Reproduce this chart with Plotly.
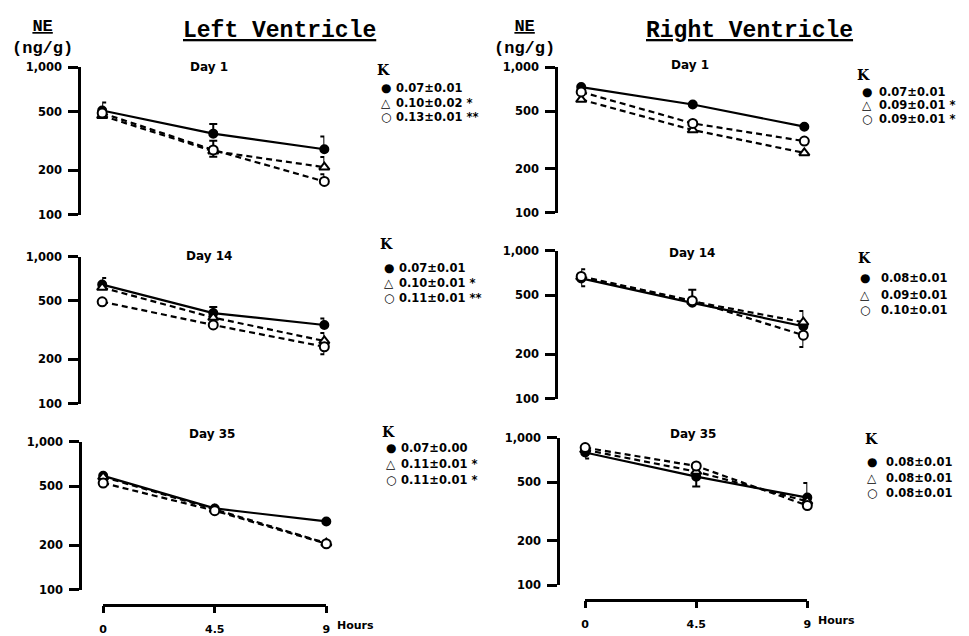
import plotly.graph_objects as go

W, H = 969, 636

HOURS = [0, 4.5, 9]
X_TICK_VALS = [0, 4.5, 9]
X_TICK_TEXT = ["0", "4.5", "9"]
Y_TICK_VALS = [100, 200, 500, 1000]
Y_TICK_TEXT = ["100", "200", "500", "1,000"]

DAYS = ["Day 1", "Day 14", "Day 35"]

# ---- Left ventricle, NE (ng/g) ----
LV_D1_CTRL = [510, 355, 278]
LV_D1_CTRL_UP = [68, 58, 61]
LV_D1_TRI = [470, 270, 210]
LV_D1_TRI_UP = [0, 48, 36]
LV_D1_OPEN = [490, 275, 168]
LV_D1_OPEN_UP = [0, 0, 20]
LV_D1_OPEN_DN = [0, 28, 0]
LV_D1_K = ["0.07±0.01", "0.10±0.02 *", "0.13±0.01 **"]

LV_D14_CTRL = [645, 413, 343]
LV_D14_CTRL_UP = [71, 42, 36]
LV_D14_TRI = [616, 385, 267]
LV_D14_TRI_UP = [0, 0, 35]
LV_D14_OPEN = [493, 343, 244]
LV_D14_OPEN_DN = [0, 0, 27]
LV_D14_K = ["0.07±0.01", "0.10±0.01 *", "0.11±0.01 **"]

LV_D35_CTRL = [589, 355, 290]
LV_D35_TRI = [580, 350, 207]
LV_D35_OPEN = [527, 343, 205]
LV_D35_K = ["0.07±0.00", "0.11±0.01 *", "0.11±0.01 *"]

# ---- Right ventricle, NE (ng/g) ----
RV_D1_CTRL = [732, 556, 391]
RV_D1_TRI = [601, 371, 258]
RV_D1_OPEN = [678, 412, 311]
RV_D1_K = ["0.07±0.01", "0.09±0.01 *", "0.09±0.01 *"]

RV_D14_CTRL = [650, 445, 309]
RV_D14_CTRL_UP = [100, 100, 0]
RV_D14_CTRL_DN = [75, 0, 0]
RV_D14_TRI = [665, 455, 329]
RV_D14_TRI_UP = [0, 0, 63]
RV_D14_OPEN = [670, 460, 269]
RV_D14_OPEN_DN = [0, 0, 45]
RV_D14_K = ["0.08±0.01", "0.09±0.01", "0.10±0.01"]

RV_D35_CTRL = [796, 545, 393]
RV_D35_CTRL_UP = [0, 0, 100]
RV_D35_CTRL_DN = [72, 78, 0]
RV_D35_TRI = [830, 590, 370]
RV_D35_OPEN = [859, 644, 347]
RV_D35_K = ["0.08±0.01", "0.08±0.01", "0.08±0.01"]

ZERO = [0, 0, 0]

FONT = "DejaVu Sans"
MONO = "Liberation Mono"
INK = "black"


def fx(px):
    return px / W


def fy(py):
    return 1 - py / H


# panel frames in pixels: (y of 1,000, y of 100, x of hour 0, x of hour 9, y-axis line x)
PANELS = [
    dict(top=62, bot=213, x0=99, x9=323, yax=76),
    dict(top=256, bot=407, x0=99, x9=323, yax=76),
    dict(top=446, bot=598, x0=100, x9=325, yax=77),
    dict(top=62, bot=211, x0=582, x9=807, yax=557),
    dict(top=250, bot=402, x0=582, x9=806, yax=557),
    dict(top=442, bot=593, x0=586, x9=810, yax=559),
]

SERIES = [
    [(LV_D1_CTRL, LV_D1_CTRL_UP, ZERO), (LV_D1_TRI, LV_D1_TRI_UP, ZERO), (LV_D1_OPEN, LV_D1_OPEN_UP, LV_D1_OPEN_DN)],
    [(LV_D14_CTRL, LV_D14_CTRL_UP, ZERO), (LV_D14_TRI, LV_D14_TRI_UP, ZERO), (LV_D14_OPEN, ZERO, LV_D14_OPEN_DN)],
    [(LV_D35_CTRL, ZERO, ZERO), (LV_D35_TRI, ZERO, ZERO), (LV_D35_OPEN, ZERO, ZERO)],
    [(RV_D1_CTRL, ZERO, ZERO), (RV_D1_TRI, ZERO, ZERO), (RV_D1_OPEN, ZERO, ZERO)],
    [(RV_D14_CTRL, RV_D14_CTRL_UP, RV_D14_CTRL_DN), (RV_D14_TRI, RV_D14_TRI_UP, ZERO), (RV_D14_OPEN, ZERO, RV_D14_OPEN_DN)],
    [(RV_D35_CTRL, RV_D35_CTRL_UP, RV_D35_CTRL_DN), (RV_D35_TRI, ZERO, ZERO), (RV_D35_OPEN, ZERO, ZERO)],
]

K_LABELS = [LV_D1_K, LV_D14_K, LV_D35_K, RV_D1_K, RV_D14_K, RV_D35_K]

# legend block positions: (K x, K y, marker x, text x, row ys)
LEGENDS = [
    (383, 65, 385, 393, [83, 98, 113]),
    (386, 243, 388, 396, [268, 283, 298]),
    (388, 436, 390, 398, [452, 469, 485]),
    (867, 70, 870, 880, [87, 101, 115]),
    (868, 257, 868, 882, [278, 295, 311]),
    (875, 443, 875, 887, [467, 483, 499]),
]

DAY_POS = [(207, 62), (207, 255), (210, 438), (692, 60), (694, 252), (695, 438)]

# (marker symbol, line dash, size) for control, triangle group, open-circle group
STYLES = [
    ("circle", "solid", 8),
    ("triangle-up", "6px,4px", 9),
    ("circle", "6px,4px", 9),
]
FILLS = [INK, "white", "white"]
LEGEND_GLYPHS = ["●", "△", "○"]

fig = go.Figure()
layout = dict(
    width=W, height=H, margin=dict(l=0, r=0, t=0, b=0),
    paper_bgcolor="white", plot_bgcolor="white", showlegend=False,
)
annotations = []

for i, (p, series) in enumerate(zip(PANELS, SERIES), start=1):
    xa = f"xaxis{i}" if i > 1 else "xaxis"
    ya = f"yaxis{i}" if i > 1 else "yaxis"
    bottom_row = i in (3, 6)
    layout[ya] = dict(
        type="log", range=[2, 3], domain=[fy(p["bot"]), fy(p["top"])],
        anchor="free", position=fx(p["yax"]),
        tickvals=Y_TICK_VALS, ticktext=Y_TICK_TEXT,
        ticks="outside", ticklen=10, tickwidth=2.5, tickcolor=INK,
        showline=True, linewidth=3, linecolor=INK, showgrid=False,
        zeroline=False, ticklabelstandoff=4,
        tickfont=dict(family=FONT, size=11.5, color=INK, weight="bold"),
    )
    xdict = dict(
        range=[0, 9], domain=[fx(p["x0"]), fx(p["x9"])],
        showgrid=False, zeroline=False,
    )
    if bottom_row:
        xdict.update(
            anchor="free", position=fy(p["bot"] + 15),
            tickvals=X_TICK_VALS, ticktext=X_TICK_TEXT,
            ticks="outside", ticklen=7, tickwidth=2.5, tickcolor=INK,
            showline=True, linewidth=2.5, linecolor=INK, ticklabelstandoff=6,
            tickfont=dict(family=FONT, size=11, color=INK, weight="bold"),
        )
        annotations.append(dict(
            x=9, y=fy(p["bot"] + 36), xref=f"x{i}", yref="paper",
            text="<b>Hours</b>", showarrow=False, xanchor="left", yanchor="middle",
            xshift=9, font=dict(family=FONT, size=11, color=INK),
        ))
    else:
        xdict.update(anchor=f"y{i}", visible=False)
    layout[xa] = xdict

    for (vals, up, dn), (sym, dash, msize), fill in zip(series, STYLES, FILLS):
        has_err = any(up) or any(dn)
        fig.add_trace(go.Scatter(
            x=HOURS, y=vals, xaxis=f"x{i}", yaxis=f"y{i}",
            mode="lines+markers", cliponaxis=False,
            line=dict(color=INK, width=2.2, dash=dash),
            marker=dict(symbol=sym, size=msize, color=fill,
                        line=dict(color=INK, width=2)),
            error_y=dict(type="data", symmetric=False, array=up, arrayminus=dn,
                         color=INK, thickness=2, width=4, visible=has_err),
        ))

    # panel title
    dx, dy = DAY_POS[i - 1]
    annotations.append(dict(
        x=fx(dx), y=fy(dy), xref="paper", yref="paper", text=f"<b>{DAYS[(i - 1) % 3]}</b>",
        showarrow=False, xanchor="center", yanchor="middle",
        font=dict(family=FONT, size=12, color=INK),
    ))

    # K block
    kx, ky, mx, tx, rows = LEGENDS[i - 1]
    annotations.append(dict(
        x=fx(kx), y=fy(ky), xref="paper", yref="paper", text="<b>K</b>",
        showarrow=False, xanchor="center", yanchor="middle",
        font=dict(family="DejaVu Serif", size=14, color=INK),
    ))
    for glyph, label, ry in zip(LEGEND_GLYPHS, K_LABELS[i - 1], rows):
        annotations.append(dict(
            x=fx(mx), y=fy(ry), xref="paper", yref="paper", text=f"<b>{glyph}</b>",
            showarrow=False, xanchor="center", yanchor="middle",
            font=dict(family=FONT, size=12, color=INK),
        ))
        annotations.append(dict(
            x=fx(tx), y=fy(ry), xref="paper", yref="paper", text=f"<b>{label}</b>",
            showarrow=False, xanchor="left", yanchor="middle",
            font=dict(family=FONT, size=11.5, color=INK),
        ))

# column headings and unit labels
for text, cx in (("Left Ventricle", 278), ("Right Ventricle", 752)):
    annotations.append(dict(
        x=fx(cx), y=fy(25), xref="paper", yref="paper", text=f"<b><u>{text}</u></b>",
        showarrow=False, xanchor="center", yanchor="middle",
        font=dict(family=MONO, size=23, color=INK),
    ))
for cx in (39, 525):
    annotations.append(dict(
        x=fx(cx), y=fy(31), xref="paper", yref="paper",
        text="<b><u>NE</u></b><br><b>(ng/g)</b>",
        showarrow=False, xanchor="center", yanchor="middle",
        font=dict(family=MONO, size=17, color=INK), align="center",
    ))

layout["annotations"] = annotations
fig.update_layout(**layout)
fig.write_html("out.html")
